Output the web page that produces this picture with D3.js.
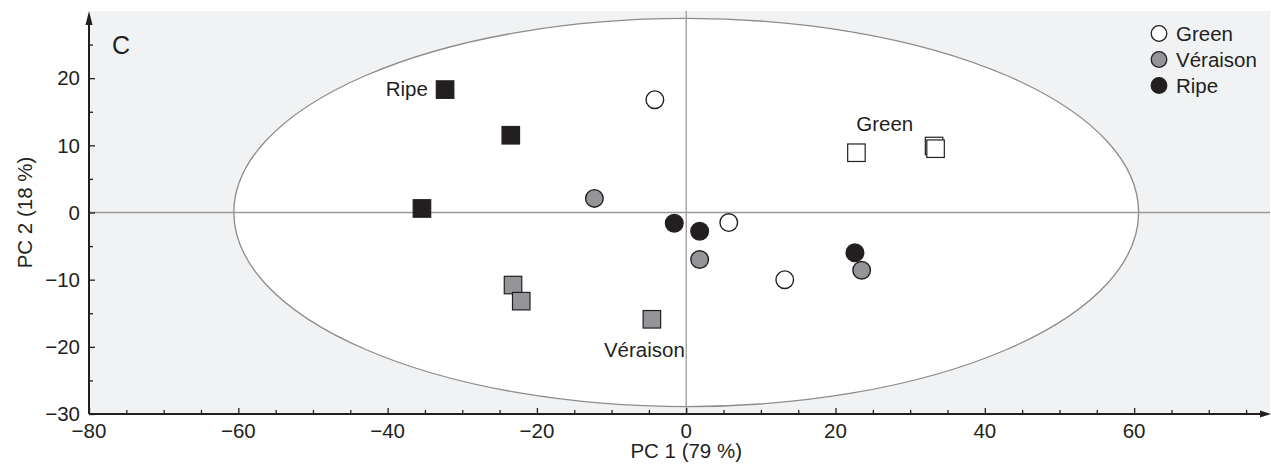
<!DOCTYPE html>
<html>
<head>
<meta charset="utf-8">
<script src="https://cdn.jsdelivr.net/npm/d3@7/dist/d3.min.js"></script>
<style>
  body { margin: 0; background: #fff; }
  svg { display: block; font-family: "Liberation Sans", Arial, sans-serif; }
</style>
</head>
<body>
<div id="chart"></div>
<script>
// scores on PC1 / PC2
const groups = ['Green', 'Véraison', 'Ripe'];
const groupFill = ['#ffffff', '#939598', '#231f20'];

// circles (one sample set)
const circleGroup = ['Green', 'Véraison', 'Ripe', 'Ripe', 'Green', 'Véraison', 'Green', 'Ripe', 'Véraison'];
const circlePC1 = [-4.2, -12.3, -1.6, 1.8, 5.7, 1.8, 13.2, 22.6, 23.5];
const circlePC2 = [16.8, 2.1, -1.6, -2.8, -1.5, -7.0, -10.0, -6.0, -8.6];

// squares (other sample set)
const squareGroup = ['Ripe', 'Ripe', 'Ripe', 'Véraison', 'Véraison', 'Véraison', 'Green', 'Green', 'Green'];
const squarePC1 = [-32.3, -23.5, -35.4, -23.2, -22.1, -4.6, 22.8, 33.2, 33.4];
const squarePC2 = [18.3, 11.5, 0.6, -10.8, -13.2, -15.9, 8.9, 9.9, 9.5];

// group labels placed near the squares
const labelText = ['Ripe', 'Green', 'Véraison'];
const labelPC1 = [-34.6, 26.6, -5.6];
const labelPC2 = [17.3, 12.1, -21.5];

const xTicks = [-80, -60, -40, -20, 0, 20, 40, 60];
const yTicks = [-30, -20, -10, 0, 10, 20];

const ellipseRx = 60.6;
const ellipseRy = 28.9;

const width = 1271, height = 471;
const mLeft = 89, mRight = 1270, mTop = 11, mBottom = 414;
const fs = 20.5;

const x = d3.scaleLinear().domain([-80, 78.2]).range([mLeft, mRight]);
const y = d3.scaleLinear().domain([-30, 30]).range([mBottom, mTop]);

const svg = d3.select('#chart').append('svg')
  .attr('width', width)
  .attr('height', height);

// plot background
svg.append('rect')
  .attr('x', mLeft).attr('y', mTop)
  .attr('width', mRight - mLeft).attr('height', mBottom - mTop)
  .attr('fill', '#f1f2f4');

// confidence ellipse
svg.append('ellipse')
  .attr('cx', x(0)).attr('cy', y(0))
  .attr('rx', x(ellipseRx) - x(0))
  .attr('ry', y(0) - y(ellipseRy))
  .attr('fill', '#fff')
  .attr('stroke', '#8c8c8c')
  .attr('stroke-width', 1.3);

// zero lines
svg.append('line')
  .attr('x1', mLeft).attr('x2', mRight)
  .attr('y1', y(0)).attr('y2', y(0))
  .attr('stroke', '#9a9a9a').attr('stroke-width', 1.3);
svg.append('line')
  .attr('x1', x(0)).attr('x2', x(0))
  .attr('y1', mTop).attr('y2', mBottom)
  .attr('stroke', '#9a9a9a').attr('stroke-width', 1.3);

// axes with ticks pointing inward
const xAxis = d3.axisTop(x).tickValues(xTicks).tickSize(6).tickFormat('');
const xMinor = d3.axisTop(x).tickValues(d3.range(-75, 78, 5).filter(v => v % 20 !== 0)).tickSize(4).tickFormat('');
const yAxis = d3.axisRight(y).tickValues(yTicks).tickSize(6).tickFormat('');
const yMinor = d3.axisRight(y).tickValues(d3.range(-25, 30, 10)).tickSize(4).tickFormat('');

[[xAxis, `translate(0,${mBottom})`], [xMinor, `translate(0,${mBottom})`],
 [yAxis, `translate(${mLeft},0)`], [yMinor, `translate(${mLeft},0)`]].forEach(([ax, tr]) => {
  const g = svg.append('g').attr('transform', tr).call(ax);
  g.select('.domain').remove();
  g.selectAll('line').attr('stroke', '#231f20').attr('stroke-width', 1.3);
});

svg.append('line')
  .attr('x1', mLeft).attr('x2', mRight - 4)
  .attr('y1', mBottom).attr('y2', mBottom)
  .attr('stroke', '#231f20').attr('stroke-width', 2);
svg.append('line')
  .attr('x1', mLeft).attr('x2', mLeft)
  .attr('y1', mBottom).attr('y2', mTop + 6)
  .attr('stroke', '#231f20').attr('stroke-width', 2);

// arrow heads
svg.append('path')
  .attr('d', `M${mLeft},${mTop} L${mLeft - 3.5},${mTop + 14} L${mLeft + 3.5},${mTop + 14} Z`)
  .attr('fill', '#231f20');
svg.append('path')
  .attr('d', `M${mRight + 1},${mBottom} L${mRight - 10},${mBottom - 3.5} L${mRight - 10},${mBottom + 3.5} Z`)
  .attr('fill', '#231f20');

// tick labels
svg.append('g').selectAll('text')
  .data(xTicks).enter().append('text')
  .attr('x', d => x(d))
  .attr('y', 437.5)
  .attr('text-anchor', 'middle')
  .attr('font-size', fs)
  .attr('fill', '#231f20')
  .text(d => d < 0 ? '\u2212' + Math.abs(d) : d);

svg.append('g').selectAll('text')
  .data(yTicks).enter().append('text')
  .attr('x', 80)
  .attr('y', d => y(d) + 7.3)
  .attr('text-anchor', 'end')
  .attr('font-size', fs)
  .attr('fill', '#231f20')
  .text(d => d < 0 ? '\u2212' + Math.abs(d) : d);

// axis titles
svg.append('text')
  .attr('x', x(0)).attr('y', 458)
  .attr('text-anchor', 'middle')
  .attr('font-size', fs)
  .attr('fill', '#231f20')
  .text('PC 1 (79 %)');

svg.append('text')
  .attr('transform', `translate(32,${y(0)}) rotate(-90)`)
  .attr('text-anchor', 'middle')
  .attr('font-size', fs)
  .attr('fill', '#231f20')
  .text('PC 2 (18 %)');

// panel letter
svg.append('text')
  .attr('x', 112).attr('y', 53.5)
  .attr('font-size', 25)
  .attr('fill', '#231f20')
  .text('C');

const fillOf = g => groupFill[groups.indexOf(g)];

// squares
const sq = 17.5;
svg.append('g').selectAll('rect')
  .data(squarePC1.map((v, i) => ({ pc1: v, pc2: squarePC2[i], g: squareGroup[i] })))
  .enter().append('rect')
  .attr('x', d => x(d.pc1) - sq / 2)
  .attr('y', d => y(d.pc2) - sq / 2)
  .attr('width', sq).attr('height', sq)
  .attr('fill', d => fillOf(d.g))
  .attr('stroke', '#231f20')
  .attr('stroke-width', 1.2);

// circles
svg.append('g').selectAll('circle')
  .data(circlePC1.map((v, i) => ({ pc1: v, pc2: circlePC2[i], g: circleGroup[i] })))
  .enter().append('circle')
  .attr('cx', d => x(d.pc1))
  .attr('cy', d => y(d.pc2))
  .attr('r', 8.8)
  .attr('fill', d => fillOf(d.g))
  .attr('stroke', '#231f20')
  .attr('stroke-width', 1.4);

// group labels
svg.append('g').selectAll('text')
  .data(labelText).enter().append('text')
  .attr('x', (d, i) => x(labelPC1[i]))
  .attr('y', (d, i) => y(labelPC2[i]))
  .attr('text-anchor', (d, i) => i === 0 ? 'end' : 'middle')
  .attr('font-size', fs)
  .attr('fill', '#231f20')
  .text(d => d);

// legend
const legend = svg.append('g');
groups.forEach((g, i) => {
  const ly = 33.5 + i * 26;
  legend.append('circle')
    .attr('cx', 1159).attr('cy', ly).attr('r', 7.8)
    .attr('fill', groupFill[i])
    .attr('stroke', '#231f20').attr('stroke-width', 1.3);
  legend.append('text')
    .attr('x', 1176).attr('y', ly + 7.3)
    .attr('font-size', fs)
    .attr('fill', '#231f20')
    .text(g);
});
</script>
</body>
</html>
